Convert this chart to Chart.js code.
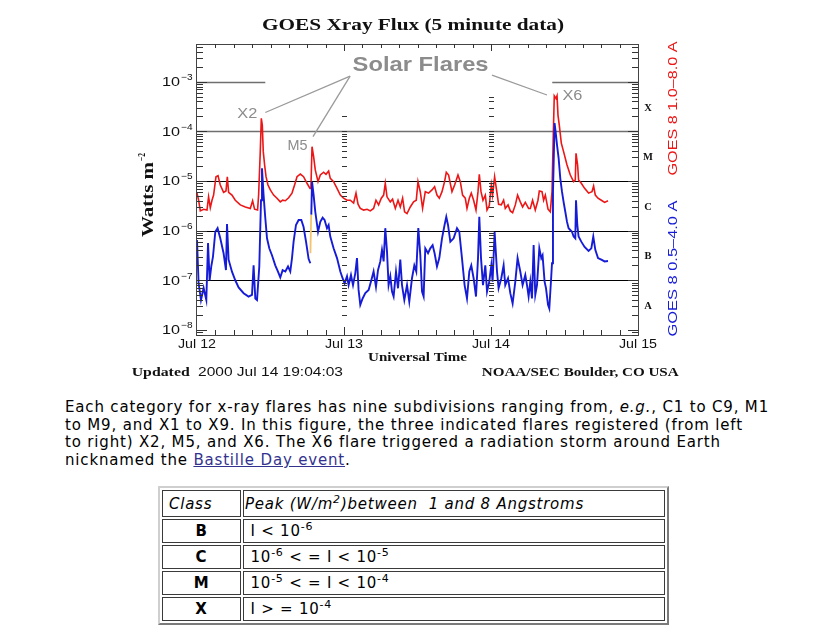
<!DOCTYPE html>
<html><head><meta charset="utf-8">
<script src="https://cdn.jsdelivr.net/npm/chart.js@4.4.0/dist/chart.umd.min.js"></script>
<style>
html,body{margin:0;padding:0;background:#fff;width:815px;height:635px;overflow:hidden}
#c{position:absolute;left:0;top:0}
#para{position:absolute;left:65px;top:399px;font:15px "DejaVu Sans",Verdana,sans-serif;line-height:17.7px;color:#000;white-space:nowrap}
#para a{color:#33338f;text-decoration:underline}
#cls{position:absolute;left:158px;top:486px;width:511px;border-collapse:separate;border-spacing:2px;border:2px outset #cfcfcf;font:15px "DejaVu Sans",Verdana,sans-serif;color:#000}
#cls td{border:1px solid #3a3a3a;padding:0 0 0 1px;height:22px;line-height:18px;white-space:nowrap}
#cls td.k{width:71px;text-align:center;font-weight:bold;padding:0}
#cls tr.h td{height:25px}
#cls tr.h td.k{text-align:left;padding-left:6px;font-weight:normal}
#cls sup{font-size:11px;line-height:0}
</style>
</head><body>
<canvas id="c" width="815" height="385"></canvas>
<div id="para"><span id="l1">Each category for x-ray flares has nine subdivisions ranging from, <i>e.g.</i>, C1 to C9, M1</span><br>to M9, and X1 to X9. In this figure, the three indicated flares registered (from left<br>to right) X2, M5, and X6. The X6 flare triggered a radiation storm around Earth<br>nicknamed the <a href="#">Bastille Day event</a>.</div>
<table id="cls">
<tr class="h"><td class="k"><i>Class</i></td><td><i id="hd">Peak (W/m<sup>2</sup>)between &nbsp;1 and 8 Angstroms</i></td></tr>
<tr><td class="k">B</td><td>&nbsp;I &lt; 10<sup>-6</sup></td></tr>
<tr><td class="k">C</td><td>&nbsp;10<sup>-6</sup> &lt; = I &lt; 10<sup>-5</sup></td></tr>
<tr><td class="k">M</td><td>&nbsp;10<sup>-5</sup> &lt; = I &lt; 10<sup>-4</sup></td></tr>
<tr><td class="k">X</td><td>&nbsp;I &gt; = 10<sup>-4</sup></td></tr>
</table>
<script>
// ---------- DATA (hours after 2000 Jul 12 00:00 UT, flux in W m^-2) ----------
const longTimes = [
 0,0.26,0.54,1.08,1.63,1.89,2.17,2.45,2.71,3.10,
 3.43,3.80,4.34,4.73,4.95,5.16,5.71,6.25,7.07,7.89,
 8.70,9.08,9.40,9.89,10.06,10.33,10.50,10.66,10.82,11.04,
 11.27,11.59,11.97,12.51,13.06,13.60,13.98,14.42,14.96,15.51,
 15.93,16.33,16.87,17.40,17.96,18.45,18.61,18.78,19.04,19.31,
 19.76,20.13,20.67,21.06,21.49,21.76,22.30,22.86,23.40,23.93,
 24.49,25.03,25.57,25.96,26.29,26.66,27.20,27.76,28.29,28.83,
 29.22,29.65,30.09,30.47,30.74,31.02,31.56,31.93,32.38,32.82,
 33.19,33.57,33.89,34.29,34.82,35.36,35.80,36.08,36.46,36.83,
 37.27,37.81,38.37,38.79,39.18,39.56,40.00,40.42,40.70,41.08,
 41.63,42.06,42.61,42.99,43.36,43.80,44.08,44.46,44.78,45.16,
 45.55,45.88,46.09,46.37,46.69,47.07,47.35,47.72,48.05,48.26,
 48.59,48.98,49.24,49.68,50.06,50.33,50.78,51.15,51.53,51.97,
 52.34,52.78,53.16,53.60,54.14,54.42,54.79,55.23,55.67,55.89,
 56.33,56.59,56.87,57.31,57.68,57.96,58.17,58.33,58.61,58.78,
 58.94,59.15,59.48,59.85,60.41,60.95,61.49,61.76,61.88,62.14,
 62.30,62.74,63.28,63.93,64.49,64.75,65.03,65.47,66.01,66.55,
 67.10];
const longFlux = [
 5.7e-6,4.1e-6,2.5e-6,2.7e-6,2.6e-6,4.8e-6,2.9e-6,4.1e-6,5.2e-6,1.22e-5,
 1.28e-5,8.3e-6,5.9e-6,6.3e-6,1.22e-5,5.9e-6,5.2e-6,4.1e-6,3.3e-6,3.0e-6,
 2.8e-6,4.0e-6,2.7e-6,2.6e-6,5.2e-6,3.9e-5,1.83e-4,1.34e-4,3.9e-5,2.1e-5,
 1.22e-5,8.3e-6,6.6e-6,5.2e-6,4.5e-6,3.8e-6,4.1e-6,4.0e-6,4.6e-6,5.7e-6,
 8.3e-6,1.22e-5,1.38e-5,1.22e-5,9.0e-6,7.1e-6,8.3e-6,4.9e-5,3.1e-5,1.67e-5,
 9.7e-6,1.32e-5,1.50e-5,1.36e-5,1.59e-5,1.13e-5,9.7e-6,7.1e-6,5.2e-6,4.5e-6,
 4.1e-6,4.1e-6,3.6e-6,5.7e-6,3.4e-6,2.8e-6,2.6e-6,2.7e-6,2.5e-6,2.8e-6,
 4.1e-6,3.3e-6,4.5e-6,5.2e-6,9.0e-6,4.8e-6,3.8e-6,4.3e-6,2.8e-6,4.1e-6,
 3.0e-6,4.5e-6,2.4e-6,2.2e-6,3.0e-6,3.8e-6,4.1e-6,9.7e-6,6.0e-6,2.8e-6,
 6.1e-6,5.7e-6,6.6e-6,7.7e-6,5.2e-6,4.5e-6,6.1e-6,9.7e-6,1.50e-5,1.32e-5,
 6.1e-6,8.3e-6,1.32e-5,9.7e-6,5.2e-6,4.5e-6,2.8e-6,4.5e-6,5.7e-6,4.1e-6,
 2.6e-6,6.1e-6,1.36e-5,6.1e-6,4.1e-6,5.2e-6,2.6e-6,3.2e-6,8.3e-6,5.2e-6,
 1.22e-5,5.7e-6,3.4e-6,3.3e-6,4.1e-6,2.8e-6,3.3e-6,2.5e-6,2.3e-6,3.3e-6,
 5.2e-6,3.8e-6,3.0e-6,3.7e-6,2.8e-6,2.8e-6,4.1e-6,2.6e-6,4.1e-6,6.3e-6,
 6.1e-6,4.1e-6,5.2e-6,2.7e-6,2.4e-6,6.1e-6,8.4e-5,5.2e-4,4.6e-4,5.2e-4,
 2.1e-4,1.34e-4,5.8e-5,3.9e-5,2.1e-5,1.32e-5,9.7e-6,1.05e-5,3.6e-5,2.1e-5,
 1.05e-5,9.0e-6,7.1e-6,5.7e-6,6.1e-6,7.9e-6,5.2e-6,4.5e-6,4.1e-6,3.7e-6,
 4.0e-6];
const shortTimes = [
 0,0.26,0.65,1.08,1.52,1.80,2.06,2.33,2.61,2.99,
 3.36,3.80,4.34,4.73,4.90,5.16,5.71,6.25,6.79,7.61,
 8.42,8.98,9.24,9.52,9.80,10.17,10.45,10.61,10.87,11.15,
 11.43,11.80,12.24,12.78,13.22,13.60,13.98,14.42,14.86,15.23,
 15.51,15.77,16.16,16.59,17.03,17.40,17.80,18.22,18.50,18.56,
 18.66,18.78,19.04,19.31,19.76,20.13,20.51,20.83,21.22,21.49,
 21.76,22.30,22.86,23.40,23.77,24.10,24.49,24.75,25.14,25.47,
 25.84,26.12,26.38,26.66,27.04,27.48,28.02,28.46,28.83,29.22,
 29.55,29.93,30.20,30.47,30.74,31.02,31.28,31.56,31.84,32.10,
 32.49,32.82,33.19,33.47,33.85,34.29,34.66,35.10,35.48,35.80,
 36.13,36.46,36.74,37.00,37.27,37.72,38.09,38.47,38.79,39.18,
 39.56,40.00,40.42,40.70,40.98,41.36,41.90,42.45,42.82,43.26,
 43.69,44.08,44.46,44.78,45.16,45.55,45.88,46.09,46.37,46.69,
 47.07,47.35,47.72,48.05,48.26,48.59,48.98,49.24,49.68,50.06,
 50.33,50.78,51.15,51.53,51.97,52.34,52.78,53.16,53.60,53.88,
 54.14,54.42,54.69,54.96,55.23,55.51,55.89,56.21,56.42,56.75,
 56.98,57.31,57.52,57.85,57.96,58.12,58.38,58.61,58.78,59.04,
 59.31,59.59,59.85,60.13,60.41,60.67,61.22,61.49,61.76,61.88,
 62.09,62.30,62.74,63.28,63.93,64.38,64.70,65.03,65.47,66.01,
 66.55,67.10];
const shortFlux = [
 6.5e-7,8.8e-8,4.0e-8,7.0e-8,4.0e-8,5.6e-7,1.0e-7,1.9e-7,3.0e-7,9.5e-7,
 1.12e-6,7.0e-7,3.5e-7,1.61e-7,1.36e-6,2.6e-7,1.49e-7,1.0e-7,7.2e-8,5.5e-8,
 4.7e-8,5.1e-8,2.0e-7,4.3e-8,4.0e-8,1.9e-7,4.1e-6,1.8e-5,5.2e-6,1.8e-6,
 7.0e-7,4.4e-7,3.2e-7,2.0e-7,1.5e-7,1.14e-7,1.6e-7,1.5e-7,1.9e-7,1.5e-7,
 2.8e-7,6.0e-7,1.3e-6,1.64e-6,1.64e-6,1.18e-6,6.0e-7,2.7e-7,2.2e-7,null,
 2.1e-6,9.7e-6,5.2e-6,2.4e-6,9.5e-7,1.51e-6,1.82e-6,1.64e-6,1.12e-6,1.30e-6,
 7.6e-7,4.4e-7,2.8e-7,1.5e-7,1.1e-7,8.7e-8,1.2e-7,8.0e-8,1.28e-7,8.0e-8,
 1.38e-7,2.8e-7,6.4e-8,3.2e-8,4.3e-8,5.5e-8,6.4e-8,1.0e-7,1.5e-7,7.4e-8,
 1.6e-7,2.4e-7,4.1e-7,2.4e-7,1.12e-6,3.8e-7,8.0e-8,1.2e-7,5.9e-8,4.7e-8,
 1.5e-7,6.9e-8,2.6e-7,8.0e-8,4.0e-8,8.0e-8,3.7e-8,1.1e-7,2.0e-7,1.5e-7,
 1.13e-6,3.2e-7,5.9e-8,4.7e-8,4.4e-7,3.5e-7,4.4e-7,5.1e-7,3.5e-7,1.9e-7,
 2.8e-7,7.0e-7,1.30e-6,1.9e-6,1.3e-6,6.0e-7,7.0e-7,1.12e-6,9.5e-7,2.8e-7,
 8.0e-8,4.3e-8,1.5e-7,2.0e-7,1.1e-7,4.7e-8,2.8e-7,1.9e-6,2.8e-7,8.0e-8,
 2.0e-7,5.9e-8,9.4e-8,2.0e-7,9.4e-8,9.5e-7,1.5e-7,6.9e-8,1.1e-7,2.0e-7,
 8.0e-8,1.1e-7,5.5e-8,3.4e-8,9.4e-8,2.8e-7,1.5e-7,8.0e-8,1.28e-7,8.0e-8,
 4.7e-8,9.4e-8,4.3e-8,5.1e-7,5.1e-8,8.0e-8,4.4e-7,2.8e-7,3.2e-7,9.4e-8,
 6.9e-8,3.2e-8,2.7e-8,1.28e-7,2.2e-7,6.1e-6,1.47e-4,8.4e-5,5.3e-5,2.9e-5,
 1.13e-5,6.1e-6,3.8e-6,2.4e-6,1.5e-6,1.12e-6,9.5e-7,7.6e-7,7.0e-7,4.1e-6,
 1.3e-6,7.6e-7,6.0e-7,4.7e-7,3.9e-7,4.4e-7,7.6e-7,4.1e-7,2.8e-7,2.6e-7,
 2.4e-7,2.45e-7];
// short channel samples drawn from the secondary (flagged) record during the gap
const flagTimes = [18.52, 18.64];
const flagFlux  = [3.5e-7, 2.1e-6];

// axes
const dayHours  = [0, 24, 48, 72];
const dayLabels = ['Jul 12', 'Jul 13', 'Jul 14', 'Jul 15'];
const decadeExponents = [-3, -4, -5, -6, -7, -8];
const gridValues = [1e-4, 1e-5, 1e-6, 1e-7];
const classLetters = ['X', 'M', 'C', 'B', 'A'];
const classCenters = [3.16e-4, 3.16e-5, 3.16e-6, 3.16e-7, 3.16e-8];
const Y_MIN = 7.9e-9, Y_MAX = 5.75e-3;
const X_MIN = 0, X_MAX = 72;

// annotations (data coordinates: hours, flux)
const flareNames = ['X2', 'M5', 'X6'];
const flareLabelAt = [[8.2, 2.5e-4], [16.4, 5.6e-5], [61.3, 5.6e-4]];

// ---------- page text fitting ----------
(function fitText() {
  const l1 = document.getElementById('l1');
  const n1 = l1.textContent.length;
  const w1 = l1.getBoundingClientRect().width;
  document.getElementById('para').style.letterSpacing = ((704 - w1) / n1).toFixed(3) + 'px';
  const hd = document.getElementById('hd');
  const n2 = hd.textContent.length;
  const w2 = hd.getBoundingClientRect().width;
  document.getElementById('cls').style.letterSpacing = ((339 - w2) / n2).toFixed(3) + 'px';
})();

// ---------- drawing ----------
const RED = 'rgb(236,22,22)', BLUE = 'rgb(22,28,214)', GRAY = '#8c8c8c';
const SERIF = '"Liberation Serif", "DejaVu Serif", serif';
const SANS = '"Liberation Sans", Arial, sans-serif';

function txt(ctx, s, x, y, font, color, align, width, angle) {
  ctx.save();
  ctx.font = font; ctx.fillStyle = color; ctx.textAlign = 'left'; ctx.textBaseline = 'alphabetic';
  ctx.translate(x, y);
  if (angle) ctx.rotate(angle);
  const w = ctx.measureText(s).width;
  const sx = width ? width / w : 1;
  const ww = w * sx;
  const off = align === 'center' ? -ww / 2 : (align === 'right' ? -ww : 0);
  ctx.translate(off, 0);
  ctx.scale(sx, 1);
  ctx.fillText(s, 0, 0);
  ctx.restore();
}
function hline(ctx, x1, x2, y, color, w) {
  ctx.strokeStyle = color; ctx.lineWidth = w;
  ctx.beginPath(); ctx.moveTo(x1, y); ctx.lineTo(x2, y); ctx.stroke();
}
function vline(ctx, x, y1, y2, color, w) {
  ctx.strokeStyle = color; ctx.lineWidth = w;
  ctx.beginPath(); ctx.moveTo(x, y1); ctx.lineTo(x, y2); ctx.stroke();
}
const crisp = p => Math.round(p) + 0.5;

const goesAxes = {
  id: 'goesAxes',
  beforeDatasetsDraw(chart) {
    const { ctx, chartArea: a, scales: { x, y } } = chart;
    ctx.save();
    gridValues.forEach(v => {
      const py = crisp(y.getPixelForValue(v));
      const gray = v >= 1e-4;
      hline(ctx, a.left, a.right, py, gray ? '#6f6f6f' : '#000', gray ? 1.4 : 1);
    });
    // 1e-3 level: partly hidden behind the annotation box
    const p3 = crisp(y.getPixelForValue(1e-3));
    hline(ctx, a.left, x.getPixelForValue(11.15), p3, '#6f6f6f', 1.6);
    hline(ctx, x.getPixelForValue(58.0), a.right, p3, '#6f6f6f', 1.6);
    ctx.restore();
  },
  afterDatasetsDraw(chart) {
    const { ctx, chartArea: a, scales: { x, y } } = chart;
    ctx.save();
    const TC = '#333';
    // frame
    ctx.strokeStyle = '#444'; ctx.lineWidth = 1;
    ctx.strokeRect(crisp(a.left) - 1, crisp(a.top), Math.round(a.right - a.left) + 1, Math.round(a.bottom - a.top));
    // log ticks on left / right axes and the day columns
    for (let e = -9; e <= -2; e++) {
      for (let m = 1; m <= 9; m++) {
        const v = m * Math.pow(10, e);
        if (v < Y_MIN || v > Y_MAX) continue;
        const py = crisp(y.getPixelForValue(v));
        const L = m === 1 ? 10 : 6;
        hline(ctx, a.left, a.left + L, py, TC, 1);
        hline(ctx, a.right - L, a.right, py, TC, 1);
        [[24, 2.1e-4], [48, 5.1e-4]].forEach(([h, top]) => {
          if (v < 1.9e-8 || v > top) return;
          const px = Math.round(x.getPixelForValue(h));
          hline(ctx, px - 2, px + 3, py, TC, 1);
        });
      }
    }
    // time ticks (3 h)
    for (let h = 3; h < X_MAX; h += 3) {
      const px = crisp(x.getPixelForValue(h));
      const day = h % 24 === 0;
      vline(ctx, px, a.bottom, a.bottom - (day ? 8 : 5), TC, 1);
      vline(ctx, px, a.top, a.top + (day ? 7 : 4), TC, 1);
    }
    // y tick labels 10^n
    decadeExponents.forEach(e => {
      const g = y.getPixelForValue(Math.pow(10, e));
      txt(ctx, '10', 180, g + 4.5, '12px ' + SANS, '#111', 'right', 18);
      txt(ctx, '\u2212' + (-e), 181, g - 1.5, '9px ' + SANS, '#111', 'left', 11.5);
    });
    // x tick labels
    dayHours.forEach((h, i) => {
      txt(ctx, dayLabels[i], x.getPixelForValue(h), a.bottom + 13, '12px ' + SANS, '#111', 'center', 38);
    });
    // class letters on the right
    classLetters.forEach((c, i) => {
      txt(ctx, c, a.right + 10, y.getPixelForValue(classCenters[i]) + 4, 'bold 10.5px ' + SERIF, '#111', 'center');
    });
    // channel labels (rotated)
    txt(ctx, 'GOES 8 1.0\u20138.0 A', 677, a.top + 64.5, '13.5px ' + SANS, RED, 'center', 134, -Math.PI / 2);
    txt(ctx, 'GOES 8 0.5\u20134.0 A', 677, a.top + 224.5, '13.5px ' + SANS, BLUE, 'center', 136, -Math.PI / 2);
    // titles
    txt(ctx, 'GOES Xray Flux (5 minute data)', 413, 30, 'bold 17px ' + SERIF, '#111', 'center', 302);
    txt(ctx, 'Universal Time', 417.5, 361, 'bold 12px ' + SERIF, '#111', 'center', 99);
    txt(ctx, 'Watts m', 153, 237, 'bold 16px ' + SERIF, '#111', 'left', 75, -Math.PI / 2);
    txt(ctx, '\u22122', 145, 161, 'bold 10px ' + SERIF, '#111', 'left', 8, -Math.PI / 2);
    txt(ctx, 'Updated', 131.7, 376, 'bold 12px ' + SERIF, '#111', 'left', 58);
    txt(ctx, '2000 Jul 14 19:04:03', 198, 376, '12px ' + SANS, '#111', 'left', 145);
    txt(ctx, 'NOAA/SEC Boulder, CO USA', 481.7, 376, 'bold 12px ' + SERIF, '#111', 'left', 197);
    // annotations
    txt(ctx, 'Solar Flares', x.getPixelForValue(36.5), y.getPixelForValue(1.25e-3) - 6, 'bold 21px ' + SANS, GRAY, 'center', 136);
    flareNames.forEach((n, i) => {
      const [h, v] = flareLabelAt[i];
      txt(ctx, n, x.getPixelForValue(h), y.getPixelForValue(v) + 6, '14px ' + SANS, GRAY, 'center', 20);
    });
    ctx.strokeStyle = '#9a9a9a'; ctx.lineWidth = 1.3;
    const P = (h, v) => [x.getPixelForValue(h), y.getPixelForValue(v)];
    const s0 = P(25.0, 1.30e-3), s1 = P(48.16, 1.36e-3);
    [[s0, P(11.15, 2.4e-4)], [s0, P(18.94, 7.8e-5)], [s1, P(57.14, 5.4e-4)]].forEach(([p, q]) => {
      ctx.beginPath(); ctx.moveTo(p[0], p[1]); ctx.lineTo(q[0], q[1]); ctx.stroke();
    });
    ctx.restore();
  }
};

const pts = (t, f) => t.map((h, i) => ({ x: h, y: f[i] }));
new Chart(document.getElementById('c'), {
  type: 'line',
  data: {
    datasets: [
      { label: 'GOES 8 1.0-8.0 A', data: pts(longTimes, longFlux), borderColor: RED, borderWidth: 1.6, pointRadius: 0, tension: 0, order: 3 },
      { label: 'flagged', data: pts(flagTimes, flagFlux), borderColor: '#f5c36e', borderWidth: 1.8, pointRadius: 0, tension: 0, order: 2 },
      { label: 'GOES 8 0.5-4.0 A', data: pts(shortTimes, shortFlux), borderColor: BLUE, borderWidth: 1.9, pointRadius: 0, tension: 0, spanGaps: false, order: 1 }
    ]
  },
  options: {
    responsive: false, animation: false, devicePixelRatio: 1,
    layout: { padding: { left: 197, top: 44, right: 177, bottom: 50 } },
    plugins: { legend: { display: false }, tooltip: { enabled: false }, title: { display: false } },
    scales: {
      x: { type: 'linear', min: X_MIN, max: X_MAX, display: false },
      y: { type: 'logarithmic', min: Y_MIN, max: Y_MAX, display: false }
    }
  },
  plugins: [goesAxes]
});
</script>
</body></html>
